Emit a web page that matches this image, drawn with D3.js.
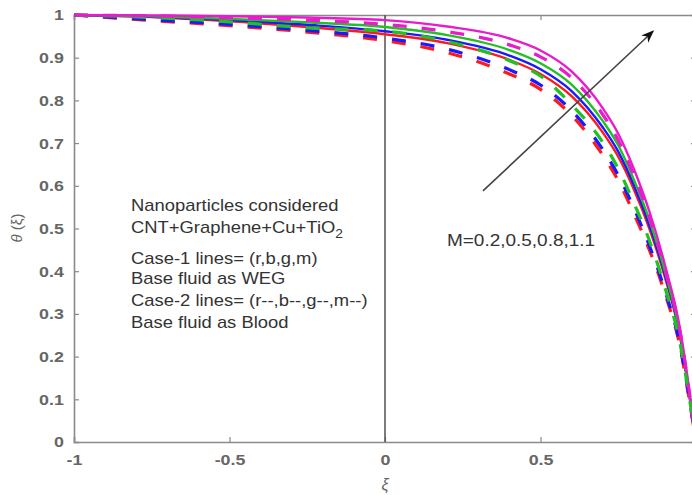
<!DOCTYPE html>
<html>
<head>
<meta charset="utf-8">
<script src="https://cdn.jsdelivr.net/npm/d3@7"></script>
<style>
  body { margin: 0; background: #fff; }
  text { font-family: "Liberation Sans", Arial, sans-serif; }
</style>
</head>
<body>
<svg id="chart" width="692" height="495"></svg>
<script>
// theta(xi) profiles, case 1 (WEG, solid) and case 2 (Blood, dashed)
const xi = [-1, -0.75, -0.5, -0.25, 0, 0.2, 0.4, 0.5, 0.6, 0.7, 0.75, 0.8, 0.85, 0.9, 0.95, 0.975, 1];

const r1 = [1, 0.995, 0.985, 0.972, 0.955, 0.934, 0.895, 0.862, 0.81, 0.725, 0.668, 0.592, 0.5, 0.386, 0.242, 0.128, 0];
const b1 = [1, 0.996, 0.988, 0.977, 0.962, 0.942, 0.905, 0.873, 0.822, 0.737, 0.68, 0.602, 0.508, 0.392, 0.245, 0.13, 0];
const g1 = [1, 0.997, 0.991, 0.983, 0.972, 0.953, 0.918, 0.887, 0.837, 0.752, 0.695, 0.615, 0.52, 0.4, 0.25, 0.133, 0];
const m1 = [1, 0.999, 0.997, 0.994, 0.988, 0.973, 0.945, 0.917, 0.868, 0.782, 0.722, 0.64, 0.54, 0.415, 0.26, 0.14, 0];

const r2 = [1, 0.987, 0.975, 0.96, 0.94, 0.912, 0.862, 0.826, 0.765, 0.672, 0.612, 0.535, 0.45, 0.348, 0.218, 0.114, 0];
const b2 = [1, 0.989, 0.978, 0.964, 0.946, 0.92, 0.872, 0.836, 0.776, 0.685, 0.625, 0.548, 0.46, 0.355, 0.222, 0.117, 0];
const g2 = [1, 0.994, 0.984, 0.97, 0.962, 0.938, 0.893, 0.857, 0.79, 0.702, 0.64, 0.56, 0.472, 0.362, 0.226, 0.12, 0];
const m2 = [1, 0.998, 0.994, 0.988, 0.978, 0.961, 0.93, 0.902, 0.853, 0.767, 0.707, 0.625, 0.527, 0.405, 0.253, 0.135, 0];

const series = [
  { name: "r", values: r1, dashed: false },
  { name: "b", values: b1, dashed: false },
  { name: "g", values: g1, dashed: false },
  { name: "m", values: m1, dashed: false },
  { name: "r", values: r2, dashed: true },
  { name: "b", values: b2, dashed: true },
  { name: "g", values: g2, dashed: true },
  { name: "m", values: m2, dashed: true }
];

const xTicks = [-1, -0.5, 0, 0.5, 1];
const xTickLabels = ["-1", "-0.5", "0", "0.5", ""]; // "1" falls outside the picture
const yTicks = [0, 0.1, 0.2, 0.3, 0.4, 0.5, 0.6, 0.7, 0.8, 0.9, 1];
const yTickLabels = ["0", "0.1", "0.2", "0.3", "0.4", "0.5", "0.6", "0.7", "0.8", "0.9", "1"];

// arrow marking increasing M, in data units (from -> to)
const arrowFrom = [0.315, 0.588];
const arrowTo = [0.862, 0.962];

const noteLines = [
  "Nanoparticles considered",
  "CNT+Graphene+Cu+TiO",
  "Case-1 lines= (r,b,g,m)",
  "Base fluid as WEG",
  "Case-2 lines= (r--,b--,g--,m--)",
  "Base fluid as Blood"
];

const svg = d3.select("#chart");
const margin = { top: 15, right: -4, bottom: 53, left: 74 };
const width = 692, height = 495;
const stretch = 1.15; // source picture is a bit wider than tall

const x = d3.scaleLinear().domain([-1, 1]).range([margin.left, width - margin.right]);
const y = d3.scaleLinear().domain([0, 1]).range([height - margin.bottom, margin.top]);

const color = d3.scaleOrdinal()
  .domain(["r", "b", "g", "m"])
  .range(["#ff1a1a", "#1a1aff", "#22c022", "#e81ccc"]);

const axisColor = "#8a8a8a";
const labelColor = "#666";

// axes (ticks pointing inward, like matlab)
const yAxis = svg.append("g")
  .attr("transform", `translate(${margin.left},0)`)
  .call(d3.axisLeft(y).tickValues(yTicks).tickSize(-5).tickPadding(10)
    .tickFormat((d, i) => yTickLabels[i]));

const yAxisR = svg.append("g")
  .attr("transform", `translate(${width - margin.right},0)`)
  .call(d3.axisRight(y).tickValues(yTicks).tickSize(-5).tickFormat(""));

const xAxis = svg.append("g")
  .attr("transform", `translate(0,${height - margin.bottom})`)
  .call(d3.axisBottom(x).tickValues(xTicks).tickSize(-5).tickPadding(12)
    .tickFormat((d, i) => xTickLabels[i]));

const xAxisT = svg.append("g")
  .attr("transform", `translate(0,${margin.top})`)
  .call(d3.axisTop(x).tickValues(xTicks).tickSize(-5).tickFormat(""));

[yAxis, yAxisR, xAxis, xAxisT].forEach(a => {
  a.select(".domain").attr("stroke", axisColor).attr("stroke-width", 1.6);
  a.selectAll(".tick line").attr("stroke", axisColor).attr("stroke-width", 1.2);
  a.selectAll(".tick text")
    .attr("fill", labelColor)
    .style("font-size", "15.5px")
    .style("font-weight", "bold");
});

// widen the tick labels a little around their anchor
yAxis.selectAll(".tick text")
  .attr("transform", function() { return `translate(-9,0) scale(${stretch},1) translate(9,0)`; });
xAxis.selectAll(".tick text")
  .attr("transform", `scale(${stretch},1)`)
  .attr("x", 0);

// vertical line at xi = 0
svg.append("line")
  .attr("x1", x(0)).attr("x2", x(0))
  .attr("y1", y(1)).attr("y2", y(0))
  .attr("stroke", "#505050")
  .attr("stroke-width", 1.5);

const line = d3.line()
  .x(d => x(d[0]))
  .y(d => y(d[1]))
  .curve(d3.curveMonotoneX);

// curves
svg.append("g")
  .selectAll("path")
  .data(series)
  .join("path")
  .attr("fill", "none")
  .attr("stroke", d => color(d.name))
  .attr("stroke-width", d => d.dashed ? 3.2 : 2.4)
  .attr("stroke-dasharray", d => d.dashed ? "14,15" : null)
  .attr("d", d => line(xi.map((v, i) => [v, d.values[i]])));

// arrow
svg.append("defs").append("marker")
  .attr("id", "head")
  .attr("viewBox", "0 0 10 10")
  .attr("refX", 9).attr("refY", 5)
  .attr("markerWidth", 8).attr("markerHeight", 8)
  .attr("markerUnits", "strokeWidth")
  .attr("orient", "auto")
  .append("path")
  .attr("d", "M0,1 L10,5 L0,9 L3,5 Z")
  .attr("fill", "#111");

svg.append("line")
  .attr("x1", x(arrowFrom[0])).attr("y1", y(arrowFrom[1]))
  .attr("x2", x(arrowTo[0])).attr("y2", y(arrowTo[1]))
  .attr("stroke", "#444")
  .attr("stroke-width", 1.6)
  .attr("marker-end", "url(#head)");

svg.append("text")
  .attr("transform", `translate(447,246) scale(${stretch},1)`)
  .attr("fill", "#333")
  .style("font-size", "16.5px")
  .text("M=0.2,0.5,0.8,1.1");

// note block
const noteY = [211, 233, 264, 284, 306, 328];
const note = svg.append("g");
noteLines.forEach((t, i) => {
  const txt = note.append("text")
    .attr("transform", `translate(131,${noteY[i]}) scale(${stretch},1)`)
    .attr("fill", "#333")
    .style("font-size", "16px")
    .text(t);
  if (i === 1) {
    txt.append("tspan")
      .attr("dy", 5)
      .style("font-size", "12px")
      .text("2");
  }
});

// axis labels
svg.append("text")
  .attr("transform", "rotate(-90)")
  .attr("x", -228)
  .attr("y", 22)
  .attr("text-anchor", "middle")
  .attr("fill", labelColor)
  .style("font-size", "15px")
  .html("<tspan font-style='italic'>θ</tspan> (ξ)");

svg.append("text")
  .attr("x", x(0))
  .attr("y", 490)
  .attr("text-anchor", "middle")
  .attr("fill", labelColor)
  .style("font-size", "16px")
  .style("font-style", "italic")
  .text("ξ");
</script>
</body>
</html>
